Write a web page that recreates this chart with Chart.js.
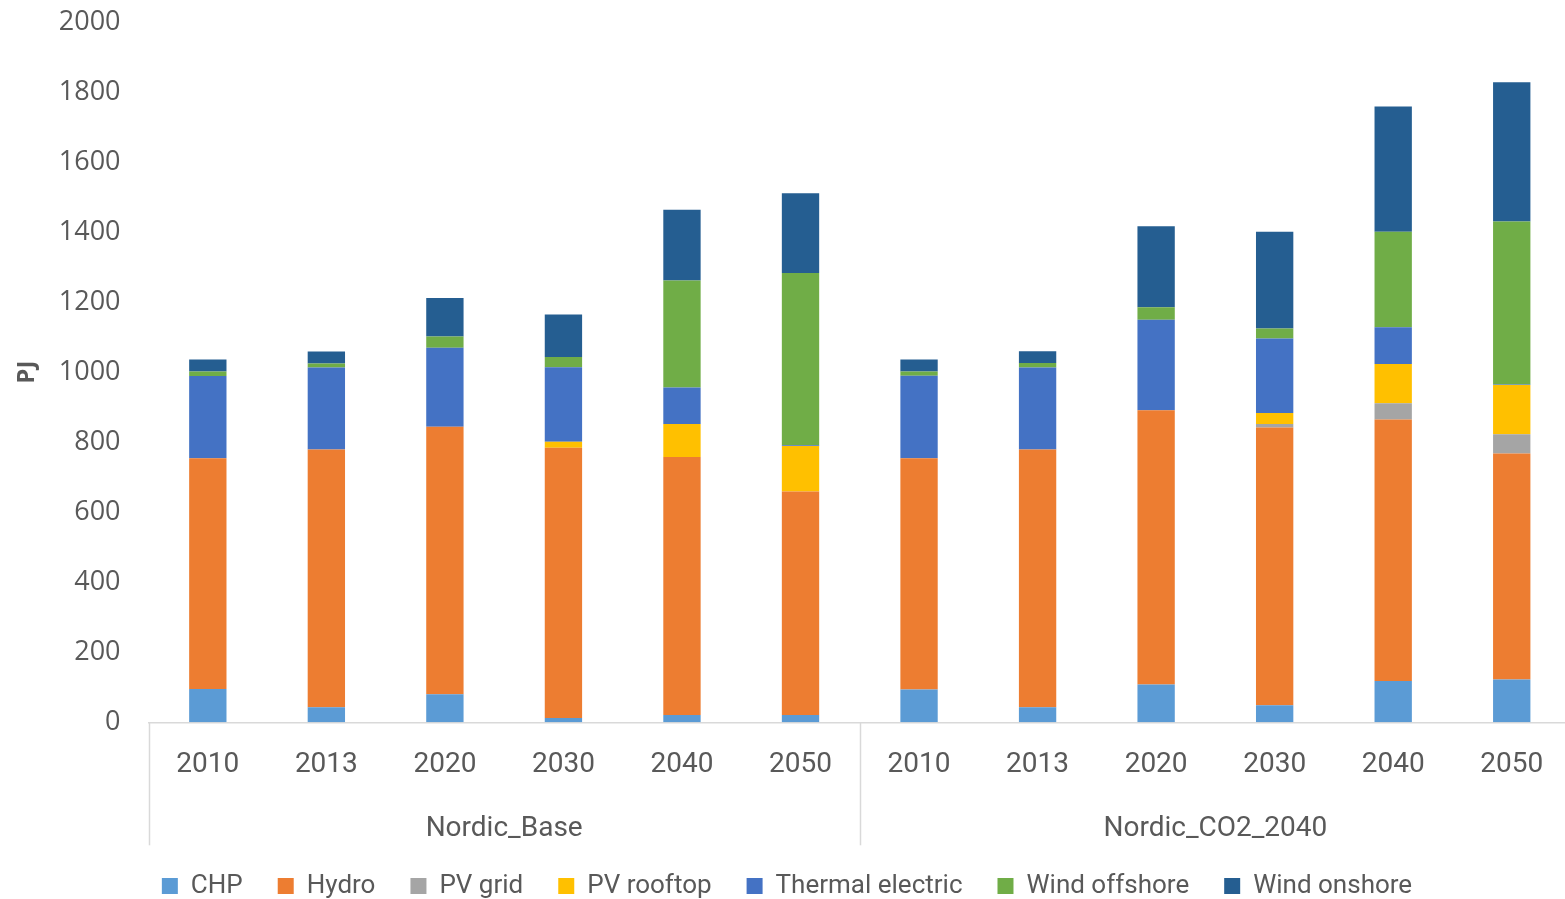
<!DOCTYPE html>
<html>
<head>
<meta charset="utf-8">
<script src="https://cdn.jsdelivr.net/npm/chart.js@4/dist/chart.umd.min.js"></script>
<style>
  html, body { margin: 0; padding: 0; background: #fff; overflow: hidden; }
  #wrap { width: 1571px; height: 899px; }
</style>
</head>
<body>
<div id="wrap"><canvas id="chart"></canvas></div>
<script>
const years = ['2010', '2013', '2020', '2030', '2040', '2050', '2010', '2013', '2020', '2030', '2040', '2050'];
const groups = ['Nordic_Base', 'Nordic_CO2_2040'];

const chp           = [95, 43, 80, 12, 21, 21,   94, 43, 108, 49, 118, 122];
const hydro         = [659, 736, 764, 772, 737, 638,   660, 736, 783, 793, 747, 646];
const pvGrid        = [0, 0, 0, 0, 0, 0,   0, 0, 0, 10, 46, 55];
const pvRooftop     = [0, 0, 0, 17, 94, 130,   0, 0, 0, 31, 112, 140];
const thermal       = [235, 234, 226, 213, 104, 2,   236, 234, 259, 213, 105, 2];
const windOffshore  = [13, 12, 32, 29, 306, 492,   12, 13, 35, 29, 273, 465];
const windOnshore   = [34, 34, 110, 122, 202, 228,   34, 34, 232, 276, 358, 398];

const yTicks = [0, 200, 400, 600, 800, 1000, 1200, 1400, 1600, 1800, 2000];

const textColor = '#595959';

// separators under the axis, Excel style
const groupLines = {
    id: 'groupLines',
    afterDraw(chart) {
        const ctx = chart.ctx;
        const x = chart.scales.x;
        const area = chart.chartArea;
        const half = (x.getPixelForValue(5) + x.getPixelForValue(6)) / 2;
        ctx.save();
        ctx.strokeStyle = '#d9d9d9';
        ctx.lineWidth = 1.5;
        [area.left, half].forEach(px => {
            ctx.beginPath();
            ctx.moveTo(Math.round(px) + 0.5, area.bottom);
            ctx.lineTo(Math.round(px) + 0.5, area.bottom + 123);
            ctx.stroke();
        });
        ctx.restore();
    }
};

new Chart(document.getElementById('chart'), {
    type: 'bar',
    data: {
        labels: years,
        datasets: [
            { label: 'CHP', data: chp, backgroundColor: '#5B9BD5' },
            { label: 'Hydro', data: hydro, backgroundColor: '#ED7D31' },
            { label: 'PV grid', data: pvGrid, backgroundColor: '#A5A5A5' },
            { label: 'PV rooftop', data: pvRooftop, backgroundColor: '#FFC000' },
            { label: 'Thermal electric', data: thermal, backgroundColor: '#4472C4' },
            { label: 'Wind offshore', data: windOffshore, backgroundColor: '#70AD47' },
            { label: 'Wind onshore', data: windOnshore, backgroundColor: '#255E91' }
        ]
    },
    options: {
        responsive: true,
        maintainAspectRatio: false,
        animation: false,
        datasets: {
            bar: { barPercentage: 0.315, categoryPercentage: 1, stack: 's' }
        },
        layout: { padding: { top: 22, left: 3, right: 0, bottom: -10 } },
        plugins: {
            legend: {
                position: 'bottom',
                labels: {
                    color: textColor,
                    boxWidth: 16,
                    boxHeight: 16,
                    padding: 35,
                    font: { family: "'Roboto', sans-serif", size: 26 }
                }
            },
            tooltip: { enabled: false }
        },
        scales: {
            y: {
                stacked: true,
                min: 0,
                max: 2000,
                afterBuildTicks: axis => { axis.ticks = yTicks.map(v => ({ value: v })); },
                afterFit: axis => { axis.paddingTop = 0; axis.paddingBottom = 0; },
                grid: { display: false },
                border: { display: false },
                ticks: {
                    color: textColor,
                    padding: 20,
                    callback: v => String(v),
                    font: { family: "'Open Sans', sans-serif", size: 27 }
                },
                title: {
                    display: true,
                    text: 'PJ',
                    color: textColor,
                    padding: { top: 10, bottom: -3 },
                    font: { family: "'Open Sans', sans-serif", size: 24, weight: 'bold' }
                }
            },
            x: {
                stacked: true,
                grid: { display: false },
                border: { display: true, color: '#d9d9d9', width: 1.5 },
                ticks: {
                    color: textColor,
                    padding: 18,
                    maxRotation: 0,
                    autoSkip: false,
                    font: { family: "'Roboto', sans-serif", size: 28 }
                }
            },
            x2: {
                type: 'category',
                labels: groups,
                position: 'bottom',
                offset: true,
                afterFit: axis => { axis.height -= 11.5; },
                grid: { display: false },
                border: { display: false },
                ticks: {
                    color: textColor,
                    padding: 4,
                    maxRotation: 0,
                    font: { family: "'Roboto', sans-serif", size: 28 }
                }
            }
        }
    },
    plugins: [groupLines]
});
</script>
</body>
</html>
